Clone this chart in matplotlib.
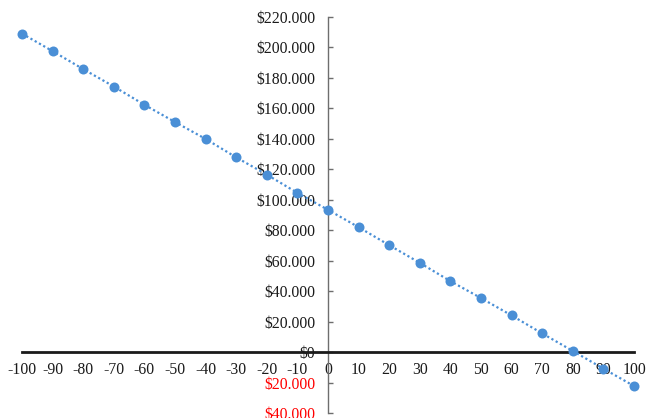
import matplotlib
matplotlib.use("Agg")
import matplotlib.pyplot as plt
from matplotlib.ticker import FixedLocator, FuncFormatter

# Units sold change vs. resulting profit
x_vals = [-100, -90, -80, -70, -60, -50, -40, -30, -20, -10, 0,
          10, 20, 30, 40, 50, 60, 70, 80, 90, 100]
profit = [208900, 197400, 185600, 174200, 162200, 150900, 139800, 127700,
          116400, 104400, 93300, 81900, 70100, 58500, 46500, 35400, 24000,
          12200, 700, -10900, -22300]

y_ticks = [-40000, -20000, 0, 20000, 40000, 60000, 80000, 100000, 120000,
           140000, 160000, 180000, 200000, 220000]
x_ticks = list(range(-100, 101, 10))

serif = "Liberation Serif"
blue = "#4a8fd6"

fig = plt.figure(figsize=(6.46, 4.18), dpi=100)
ax = fig.add_axes([22 / 646, 1 - 413 / 418, 612 / 646, (413 - 16.7) / 418])

ax.plot(x_vals, profit, linestyle=(0, (1, 1.2)), linewidth=1.6, color=blue,
        marker="o", markersize=7.2, markeredgewidth=0, clip_on=False, zorder=3)

ax.set_xlim(-100, 100)
ax.set_ylim(-40000, 220000)

for side in ("top", "right"):
    ax.spines[side].set_visible(False)
ax.spines["left"].set_position(("data", 0))
ax.spines["bottom"].set_position(("data", 0))
ax.spines["left"].set_color("#6e6e6e")
ax.spines["left"].set_linewidth(1.0)
ax.spines["bottom"].set_color("#1a1a1a")
ax.spines["bottom"].set_linewidth(2.0)

ax.yaxis.set_major_locator(FixedLocator(y_ticks))
ax.xaxis.set_major_locator(FixedLocator(x_ticks))


def money(v, pos=None):
    if v == 0:
        return "$0"
    return "$" + f"{abs(v):,.0f}".replace(",", ".")


ax.yaxis.set_major_formatter(FuncFormatter(money))
ax.xaxis.set_major_formatter(FuncFormatter(lambda v, p: f"{int(v)}"))

ax.tick_params(axis="y", direction="in", length=3.8, width=1.0, color="#6e6e6e",
               pad=9.2, labelsize=11.3, labelcolor="#1a1a1a")
ax.tick_params(axis="x", length=0, pad=7.5, labelsize=11.3, labelcolor="#1a1a1a")

for lbl in ax.get_yticklabels() + ax.get_xticklabels():
    lbl.set_fontfamily(serif)
for lbl, v in zip(ax.get_yticklabels(), y_ticks):
    if v < 0:
        lbl.set_color("#ff0000")

fig.savefig("out.png", dpi=100)
